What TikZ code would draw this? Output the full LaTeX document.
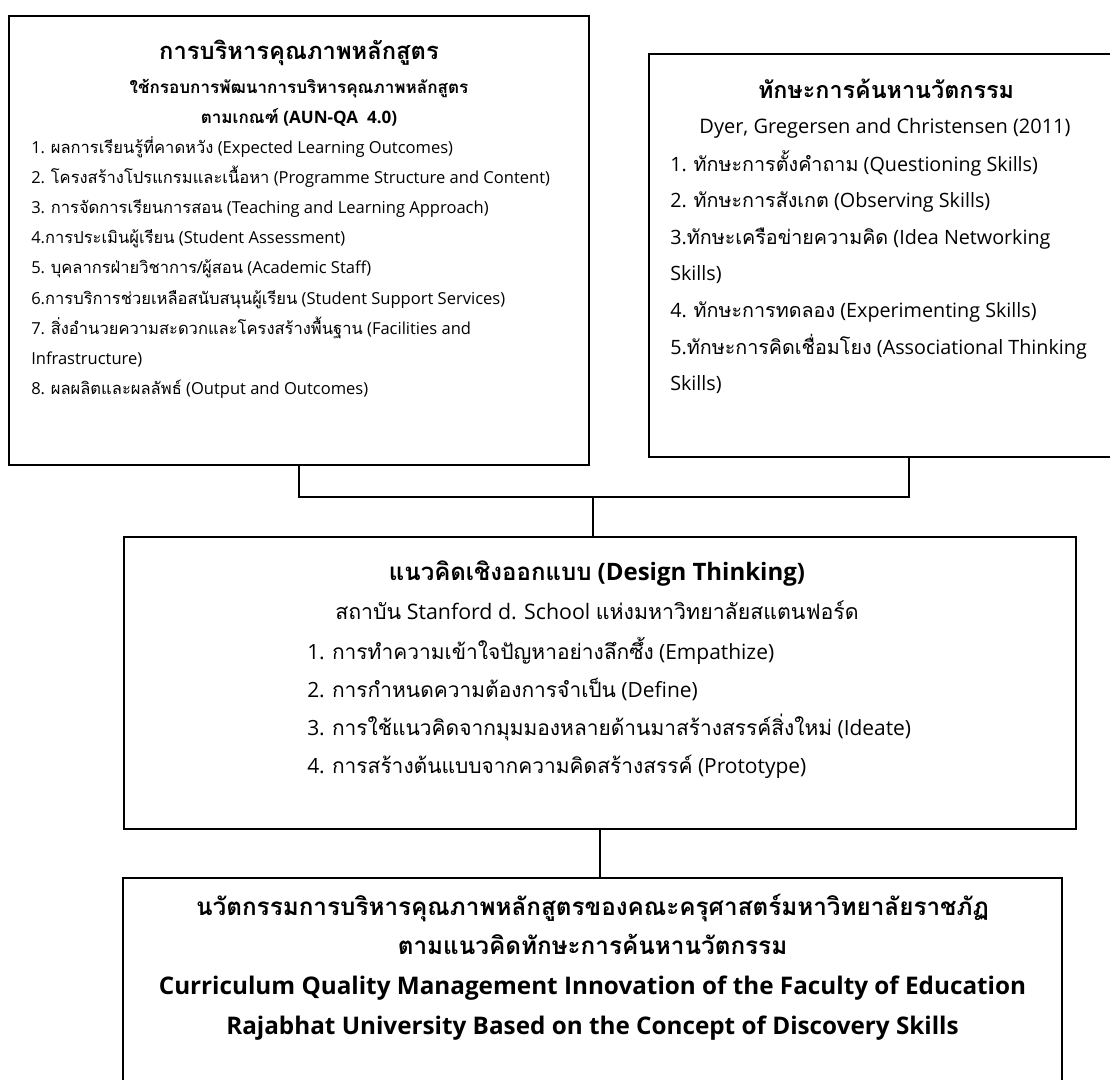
\documentclass[tikz,border=0pt]{standalone}
\usepackage{fontspec}
\setmainfont{Open Sans}
\newfontfamily\thaifont[Script=Thai]{Loma}
\newcommand{\thai}[1]{{\thaifont #1}}

\begin{document}
\begin{tikzpicture}[
    x=0.75pt, y=-0.75pt,
    panel/.style={rectangle, draw=black, line width=2pt, inner sep=0pt},
    link/.style={draw=black, line width=1.4pt},
    head/.style={anchor=base, inner sep=0pt, font=\bfseries\fontsize{17.5}{21}\selectfont},
    sub/.style={anchor=base, inner sep=0pt, font=\fontsize{15}{18}\selectfont},
    items/.style={anchor=north west, inner sep=0pt, align=left}
]
\useasboundingbox (0,0) rectangle (1110,1080);

% the four boxes
\node[panel, minimum width=435pt, minimum height=336.75pt] (boxA) at (299,240.5) {};
\node[panel, minimum width=353.25pt, minimum height=302.25pt] (boxB) at (884.5,255.5) {};
\node[panel, minimum width=714pt, minimum height=219pt] (boxC) at (600,683) {};
\node[panel, minimum width=704.25pt, minimum height=162.75pt] (boxD) at (592.5,986.5) {};

% box A: curriculum quality management
\node[head, font=\bfseries\fontsize{17.8}{21}\selectfont] (titleA) at (299,60) {\thai{การบริหารคุณภาพหลักสูตร}};
\node[anchor=north, inner sep=0pt, align=center, font=\bfseries\fontsize{12.8}{22.5}\selectfont] (subA) at (299,72)
  {\strut\thai{ใช้กรอบการพัฒนาการบริหารคุณภาพหลักสูตร}\\
   \thai{ตามเกณฑ์} (AUN-QA\ \ 4.0)};
\node[items, font=\fontsize{12.4}{22.6}\selectfont] (listA) at (31,132)
  {\strut 1. \thai{ผลการเรียนรู้ที่คาดหวัง} (Expected Learning Outcomes)\\
   2. \thai{โครงสร้างโปรแกรมและเนื้อหา} (Programme Structure and Content)\\
   3. \thai{การจัดการเรียนการสอน} (Teaching and Learning Approach)\\
   4.\thai{การประเมินผู้เรียน} (Student Assessment)\\
   5. \thai{บุคลากรฝ่ายวิชาการ/ผู้สอน} (Academic Staff)\\
   6.\thai{การบริการช่วยเหลือสนับสนุนผู้เรียน} (Student Support Services)\\
   7. \thai{สิ่งอำนวยความสะดวกและโครงสร้างพื้นฐาน} (Facilities and\\
   Infrastructure)\\
   8. \thai{ผลผลิตและผลลัพธ์} (Output and Outcomes)};

% box B: discovery skills
\node[head] (titleB) at (886,99) {\thai{ทักษะการค้นหานวัตกรรม}};
\node[sub] (srcB) at (885,134) {Dyer, Gregersen and Christensen (2011)};
\node[items, font=\fontsize{14.8}{27.4}\selectfont] (listB) at (670,145.5)
  {\strut 1. \thai{ทักษะการตั้งคำถาม} (Questioning Skills)\\
   2. \thai{ทักษะการสังเกต} (Observing Skills)\\
   3.\thai{ทักษะเครือข่ายความคิด} (Idea Networking\\
   Skills)\\
   4. \thai{ทักษะการทดลอง} (Experimenting Skills)\\
   5.\thai{ทักษะการคิดเชื่อมโยง} (Associational Thinking\\
   Skills)};

% box C: design thinking
\node[head, font=\bfseries\fontsize{18}{21}\selectfont] (titleC) at (597,580) {\thai{แนวคิดเชิงออกแบบ} (Design Thinking)};
\node[sub, font=\fontsize{16}{19}\selectfont] (srcC) at (597,619.5) {\thai{สถาบัน} Stanford d. School \thai{แห่งมหาวิทยาลัยสแตนฟอร์ด}};
\node[items, font=\fontsize{15.7}{28.5}\selectfont] (listC) at (307,633)
  {\strut 1. \thai{การทำความเข้าใจปัญหาอย่างลึกซึ้ง} (Empathize)\\
   2. \thai{การกำหนดความต้องการจำเป็น} (Define)\\
   3. \thai{การใช้แนวคิดจากมุมมองหลายด้านมาสร้างสรรค์สิ่งใหม่} (Ideate)\\
   4. \thai{การสร้างต้นแบบจากความคิดสร้างสรรค์} (Prototype)};

% box D: the innovation
\node[anchor=north, inner sep=0pt, align=center, font=\bfseries\fontsize{18.2}{29.8}\selectfont] (textD) at (592.5,887)
  {\strut\thai{นวัตกรรมการบริหารคุณภาพหลักสูตรของคณะครุศาสตร์มหาวิทยาลัยราชภัฏ}\\
   \thai{ตามแนวคิดทักษะการค้นหานวัตกรรม}\\
   Curriculum Quality Management Innovation of the Faculty of Education\\
   Rajabhat University Based on the Concept of Discovery Skills};

% connectors
\coordinate (hub) at (593,497);
\coordinate (hubR) at (909,497);
\draw[link] (boxA.south) |- (hubR) -- (hubR |- boxB.south);
\draw[link] (hub) -- (hub |- boxC.north);
\draw[link] (boxC.south) -- (boxC.south |- boxD.north);
\end{tikzpicture}
\end{document}
